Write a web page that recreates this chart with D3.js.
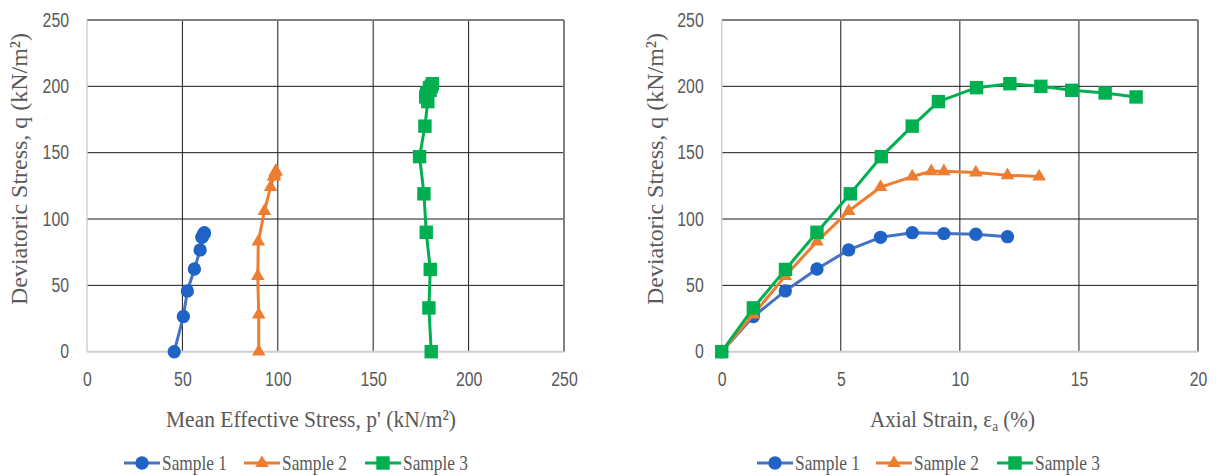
<!DOCTYPE html>
<html>
<head>
<meta charset="utf-8">
<script src="https://cdn.jsdelivr.net/npm/d3@7"></script>
<style>
  body { margin: 0; background: #fff; }
  svg { display: block; }
  .tick text { font-family: "Liberation Sans", Arial, sans-serif; font-size: 19.5px; fill: #595959; }
  .ttl { font-family: "Liberation Serif", "Times New Roman", serif; font-size: 24px; fill: #595959; }
  .leg { font-family: "Liberation Serif", "Times New Roman", serif; font-size: 21px; fill: #595959; }
</style>
</head>
<body>
<div id="chart"></div>
<script>
// data
var names = ["Sample 1", "Sample 2", "Sample 3"];
var colors = ["#4472c4", "#ed7d31", "#00b050"];
var markerColors = ["#1f63c6", "#ed7d31", "#00b050"];

var s1Strain = [0, 1.33, 2.67, 4.0, 5.33, 6.67, 8.0, 9.33, 10.67, 12.0];
var s1q = [0, 26.5, 45.8, 62.3, 76.7, 86.2, 89.7, 89, 88.5, 86.7];
var s1p = [45.7, 50.5, 52.6, 56.3, 59.3, 60.2, 61.5, 61.5, 61, 60.5];

var s2Strain = [0, 1.33, 2.67, 4.0, 5.33, 6.67, 8.0, 8.8, 9.33, 10.67, 12.0, 13.33];
var s2q = [0, 28, 57, 83, 106, 124, 132, 136, 136, 135, 133, 132];
var s2p = [90, 90, 89.5, 89.8, 93, 96.2, 97.8, 99, 99, 98.6, 98.3, 98];

var s3Strain = [0, 1.33, 2.68, 4.0, 5.4, 6.7, 8.0, 9.1, 10.7, 12.1, 13.4, 14.7, 16.1, 17.4];
var s3q = [0, 33, 62, 90, 119, 147, 170, 188.5, 199, 202, 200, 197, 195, 192];
var s3p = [180.4, 179.2, 179.9, 177.8, 176.6, 174.3, 177.1, 178.6, 179.5, 181, 180.5, 179.8, 178, 177.5];

var qTicks = [0, 50, 100, 150, 200, 250];
var pTicks = [0, 50, 100, 150, 200, 250];
var strainTicks = [0, 5, 10, 15, 20];

var width = 1221;
var height = 476;
var plotTop = 20, plotBottom = 351.7;

var svg = d3.select("#chart")
  .append("svg")
  .attr("width", width)
  .attr("height", height);

var symbols = [d3.symbolCircle, d3.symbolTriangle, d3.symbolSquare];
var symSizes = [140, 80, 180];

function zip(xs, ys) {
  return xs.map(function (x, i) { return [x, ys[i]]; });
}

// squeeze tick labels to the narrow look of the original
function narrow(sel) {
  sel.selectAll(".tick text")
    .attr("textLength", function (d) { return String(d).length * 8.8; })
    .attr("lengthAdjust", "spacingAndGlyphs");
}

function drawPanel(cfg) {
  var g = svg.append("g");
  var x = d3.scaleLinear().domain(cfg.xDomain).range([cfg.left, cfg.right]);
  var y = d3.scaleLinear().domain([0, 250]).range([plotBottom, plotTop]);

  // gridlines
  g.append("g")
    .selectAll("line")
    .data(cfg.xTicks.slice(1, -1))
    .enter()
    .append("line")
    .attr("x1", function (d) { return x(d); })
    .attr("x2", function (d) { return x(d); })
    .attr("y1", plotTop)
    .attr("y2", plotBottom)
    .attr("stroke", "#1a1a1a")
    .attr("stroke-width", 1);
  g.append("g")
    .selectAll("line")
    .data(qTicks.slice(1, -1))
    .enter()
    .append("line")
    .attr("x1", cfg.left)
    .attr("x2", cfg.right)
    .attr("y1", function (d) { return y(d); })
    .attr("y2", function (d) { return y(d); })
    .attr("stroke", "#1a1a1a")
    .attr("stroke-width", 1);

  // frame
  g.append("line").attr("x1", cfg.left).attr("x2", cfg.right).attr("y1", plotTop).attr("y2", plotTop)
    .attr("stroke", "#7f7f7f").attr("stroke-width", 2);
  g.append("line").attr("x1", cfg.right).attr("x2", cfg.right).attr("y1", plotTop).attr("y2", plotBottom)
    .attr("stroke", "#7f7f7f").attr("stroke-width", 2);
  g.append("line").attr("x1", cfg.left).attr("x2", cfg.left).attr("y1", plotTop).attr("y2", plotBottom)
    .attr("stroke", "#d0d0d0").attr("stroke-width", 1.5);
  g.append("line").attr("x1", cfg.left).attr("x2", cfg.right).attr("y1", plotBottom).attr("y2", plotBottom)
    .attr("stroke", "#cfcfcf").attr("stroke-width", 2);

  // axes (labels only)
  var ax = g.append("g")
    .attr("transform", "translate(0," + plotBottom + ")")
    .call(d3.axisBottom(x).tickValues(cfg.xTicks).tickSize(0).tickPadding(20));
  ax.select(".domain").remove();
  narrow(ax);
  var ay = g.append("g")
    .attr("transform", "translate(" + cfg.left + ",0)")
    .call(d3.axisLeft(y).tickValues(qTicks).tickSize(0).tickPadding(18));
  ay.select(".domain").remove();
  narrow(ay);

  // series
  var line = d3.line().x(function (d) { return x(d[0]); }).y(function (d) { return y(d[1]); });
  cfg.series.forEach(function (pts, i) {
    g.append("path")
      .attr("d", line(pts))
      .attr("fill", "none")
      .attr("stroke", colors[i])
      .attr("stroke-width", 3)
      .attr("stroke-linejoin", "round");
    g.selectAll("path.m" + i)
      .data(pts)
      .enter()
      .append("path")
      .attr("class", "m" + i)
      .attr("d", d3.symbol().type(symbols[i]).size(symSizes[i]))
      .attr("transform", function (d) { return "translate(" + x(d[0]) + "," + y(d[1]) + ")"; })
      .attr("fill", markerColors[i]);
  });

  // x title
  var xt = g.append("text")
    .attr("class", "ttl")
    .attr("x", cfg.xTitleX)
    .attr("y", 427)
    .attr("textLength", cfg.xTitleLen)
    .attr("lengthAdjust", "spacingAndGlyphs");
  cfg.xTitle(xt);

  // y title
  g.append("text")
    .attr("class", "ttl")
    .attr("transform", "translate(" + cfg.yTitleX + ",305) rotate(-90)")
    .attr("textLength", 272)
    .attr("lengthAdjust", "spacingAndGlyphs")
    .text("Deviatoric  Stress, q (kN/m\u00b2)");

  // legend
  var lg = g.append("g");
  cfg.legend.forEach(function (lx, i) {
    lg.append("line")
      .attr("x1", lx).attr("x2", lx + 36)
      .attr("y1", 463).attr("y2", 463)
      .attr("stroke", colors[i]).attr("stroke-width", 3);
    lg.append("path")
      .attr("d", d3.symbol().type(symbols[i]).size(symSizes[i]))
      .attr("transform", "translate(" + (lx + 18) + ",463)")
      .attr("fill", markerColors[i]);
    lg.append("text")
      .attr("class", "leg")
      .attr("x", lx + 38)
      .attr("y", 470)
      .attr("textLength", 65)
      .attr("lengthAdjust", "spacingAndGlyphs")
      .text(names[i]);
  });
}

drawPanel({
  xDomain: [0, 250],
  xTicks: pTicks,
  left: 87,
  right: 564,
  series: [zip(s1p, s1q), zip(s2p, s2q), zip(s3p, s3q)],
  xTitleX: 166,
  xTitleLen: 290,
  xTitle: function (t) {
    t.text("Mean Effective  Stress, p' (kN/m\u00b2)");
  },
  yTitleX: 27,
  legend: [124, 244, 365]
});

drawPanel({
  xDomain: [0, 20],
  xTicks: strainTicks,
  left: 721.7,
  right: 1198,
  series: [zip(s1Strain, s1q), zip(s2Strain, s2q), zip(s3Strain, s3q)],
  xTitleX: 870,
  xTitleLen: 165,
  xTitle: function (t) {
    t.append("tspan").text("Axial Strain, \u03b5");
    t.append("tspan").attr("baseline-shift", "-4px").attr("font-size", "15px").text("a");
    t.append("tspan").text(" (%)");
  },
  yTitleX: 663,
  legend: [757, 876, 997]
});
</script>
</body>
</html>
